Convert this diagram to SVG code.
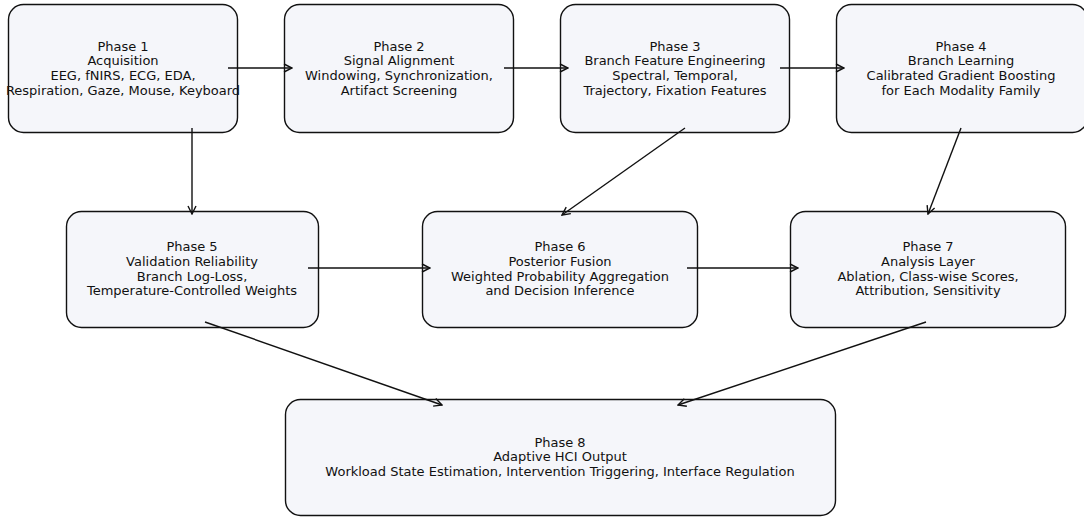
<svg xmlns="http://www.w3.org/2000/svg" width="1084" height="517" viewBox="0 0 1084 517">
<style>
.box{fill:#f5f6fa;stroke:#111;stroke-width:1.4}
text{font-family:"DejaVu Sans",sans-serif;font-size:13px;fill:#111;text-anchor:middle}
.c{stroke:#111;stroke-width:1.4;fill:none;marker-end:url(#ah)}
</style>
<defs>
<marker id="ah" viewBox="0 0 10 10" refX="9" refY="5" markerWidth="10" markerHeight="10" markerUnits="userSpaceOnUse" orient="auto">
<path d="M1,1 L9,5 L1,9" fill="none" stroke="#111" stroke-width="1.4"/>
</marker>
</defs>
<g id="n1"><rect class="box" x="8.5" y="4.5" width="229" height="128" rx="15"/>
<text x="123" y="51">Phase 1</text><text x="123" y="65">Acquisition</text><text x="123" y="80">EEG, fNIRS, ECG, EDA,</text><text x="123" y="95">Respiration, Gaze, Mouse, Keyboard</text></g>
<g id="n2"><rect class="box" x="284.5" y="4.5" width="229" height="128" rx="15"/>
<text x="399" y="51">Phase 2</text><text x="399" y="65">Signal Alignment</text><text x="399" y="80">Windowing, Synchronization,</text><text x="399" y="95">Artifact Screening</text></g>
<g id="n3"><rect class="box" x="560.5" y="4.5" width="229" height="128" rx="15"/>
<text x="675" y="51">Phase 3</text><text x="675" y="65">Branch Feature Engineering</text><text x="675" y="80">Spectral, Temporal,</text><text x="675" y="95">Trajectory, Fixation Features</text></g>
<g id="n4"><rect class="box" x="836.5" y="4.5" width="251" height="128" rx="15"/>
<text x="961" y="51">Phase 4</text><text x="961" y="65">Branch Learning</text><text x="961" y="80">Calibrated Gradient Boosting</text><text x="961" y="95">for Each Modality Family</text></g>
<g id="n5"><rect class="box" x="66.5" y="211.5" width="252" height="116" rx="15"/>
<text x="192" y="251">Phase 5</text><text x="192" y="266">Validation Reliability</text><text x="192" y="281">Branch Log-Loss,</text><text x="192" y="295">Temperature-Controlled Weights</text></g>
<g id="n6"><rect class="box" x="422.5" y="211.5" width="275" height="116" rx="15"/>
<text x="560" y="251">Phase 6</text><text x="560" y="266">Posterior Fusion</text><text x="560" y="281">Weighted Probability Aggregation</text><text x="560" y="295">and Decision Inference</text></g>
<g id="n7"><rect class="box" x="790.5" y="211.5" width="275" height="116" rx="15"/>
<text x="928" y="251">Phase 7</text><text x="928" y="266">Analysis Layer</text><text x="928" y="281">Ablation, Class-wise Scores,</text><text x="928" y="295">Attribution, Sensitivity</text></g>
<g id="n8"><rect class="box" x="285.5" y="399.5" width="550" height="116" rx="15"/>
<text x="560" y="447">Phase 8</text><text x="560" y="461">Adaptive HCI Output</text><text x="560" y="476">Workload State Estimation, Intervention Triggering, Interface Regulation</text></g>
<g id="connectors">
<line class="c" x1="228" y1="68" x2="292" y2="68"/>
<line class="c" x1="504" y1="68" x2="568" y2="68"/>
<line class="c" x1="780" y1="68" x2="844" y2="68"/>
<line class="c" x1="192" y1="128" x2="192" y2="214"/>
<line class="c" x1="685" y1="128" x2="562" y2="215"/>
<line class="c" x1="961" y1="128" x2="928" y2="214"/>
<line class="c" x1="308" y1="268" x2="430" y2="268"/>
<line class="c" x1="687" y1="268" x2="798" y2="268"/>
<line class="c" x1="205" y1="322" x2="442" y2="405"/>
<line class="c" x1="926" y1="322" x2="678" y2="405"/>
</g>
</svg>
